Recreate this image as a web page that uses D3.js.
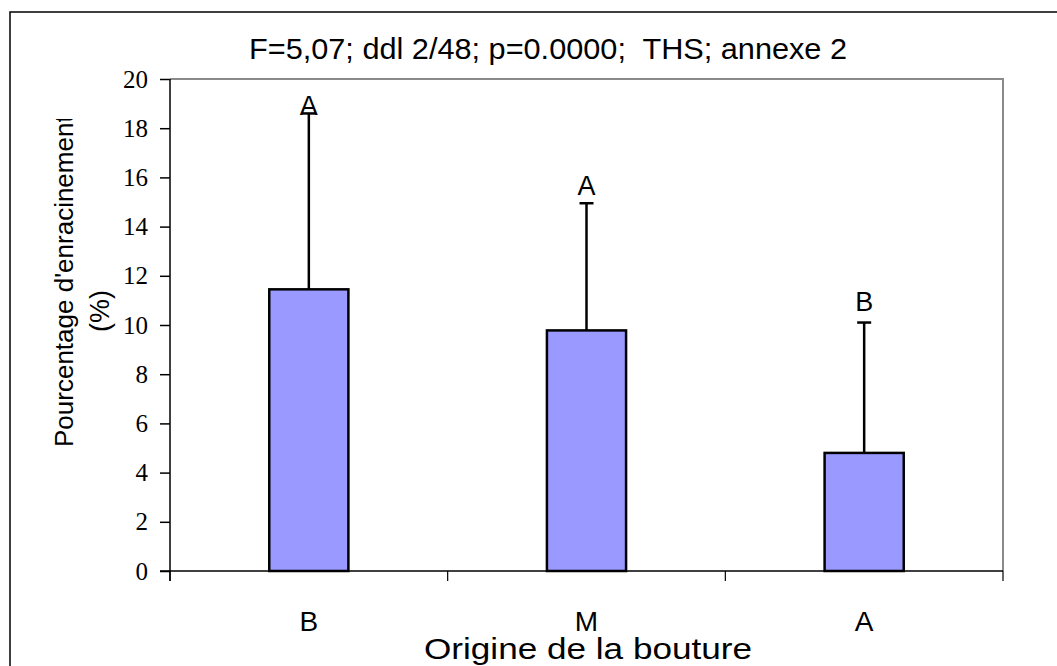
<!DOCTYPE html>
<html>
<head>
<meta charset="utf-8">
<script src="https://cdn.jsdelivr.net/npm/d3@7"></script>
<style>
  body { margin: 0; background: #fff; }
  text { white-space: pre; }
</style>
</head>
<body>
<script>
// data
const categories = ["B", "M", "A"];
const means = [11.45, 9.78, 4.8];
const errors = [7.15, 5.17, 5.3];
const letters = ["A", "A", "B"];
const letterAt = [18.55, 15.3, 10.55];
const yTicks = [0, 2, 4, 6, 8, 10, 12, 14, 16, 18, 20];

const width = 1057, height = 666;
const margin = { left: 170, top: 79, right: 54, bottom: 95 };
const sans = "Liberation Sans, Arial, sans-serif";

const svg = d3.select("body").append("svg")
  .attr("width", width)
  .attr("height", height);

// outer frame (runs off the page on right and bottom)
svg.append("rect")
  .attr("x", 10).attr("y", 12)
  .attr("width", width + 20).attr("height", height + 20)
  .attr("fill", "none").attr("stroke", "#000").attr("stroke-width", 1.5);

const x = d3.scaleBand()
  .domain(categories)
  .range([margin.left, width - margin.right])
  .paddingInner(0.715).paddingOuter(0.3575);

const xOuter = d3.scaleBand()
  .domain(categories)
  .range([margin.left, width - margin.right]);

const y = d3.scaleLinear()
  .domain([0, 20])
  .range([height - margin.bottom, margin.top]);

// plot area border (grey top / right)
svg.append("path")
  .attr("d", `M${margin.left},${margin.top}H${width - margin.right}V${height - margin.bottom}`)
  .attr("fill", "none").attr("stroke", "#8a8a8a").attr("stroke-width", 2);

// title
svg.append("text")
  .attr("x", 548).attr("y", 59)
  .attr("text-anchor", "middle")
  .attr("font-family", sans)
  .attr("font-size", 30)
  .attr("textLength", 598)
  .attr("lengthAdjust", "spacingAndGlyphs")
  .text("F=5,07; ddl 2/48; p=0.0000;  THS; annexe 2");

// y axis
const yAxis = svg.append("g")
  .attr("transform", `translate(${margin.left},0)`)
  .call(d3.axisLeft(y).tickValues(yTicks).tickSize(10).tickSizeOuter(0).tickPadding(12));
yAxis.select(".domain").attr("stroke", "#000").attr("stroke-width", 1.5)
  .attr("d", `M0,${margin.top}V${height - margin.bottom + 10}`);
yAxis.selectAll(".tick line").attr("stroke-width", 1.5);
yAxis.selectAll("text")
  .attr("font-family", "Liberation Serif, Times New Roman, serif")
  .attr("font-size", 25)
  .attr("fill", "#000");

// x axis
const xAxis = svg.append("g")
  .attr("transform", `translate(0,${height - margin.bottom})`);
xAxis.append("line")
  .attr("x1", margin.left - 10).attr("x2", width - margin.right)
  .attr("stroke", "#000").attr("stroke-width", 1.5);
const bounds = categories.map(c => xOuter(c)).concat([width - margin.right]);
xAxis.selectAll(".xtick")
  .data(bounds)
  .join("line")
  .attr("x1", d => d).attr("x2", d => d)
  .attr("y1", 0).attr("y2", 10)
  .attr("stroke", "#000").attr("stroke-width", 1.2);
xAxis.selectAll(".xlab")
  .data(categories)
  .join("text")
  .attr("x", d => x(d) + x.bandwidth() / 2)
  .attr("y", 60)
  .attr("text-anchor", "middle")
  .attr("font-family", sans)
  .attr("font-size", 28)
  .text(d => d);

svg.append("text")
  .attr("x", 588).attr("y", 659)
  .attr("text-anchor", "middle")
  .attr("font-family", sans)
  .attr("font-size", 30)
  .attr("textLength", 328)
  .attr("lengthAdjust", "spacingAndGlyphs")
  .text("Origine de la bouture");

// y title (first line clipped like the original)
svg.append("clipPath").attr("id", "ytclip")
  .append("rect").attr("x", 0).attr("y", 119).attr("width", 160).attr("height", 400);
const yt = svg.append("g").attr("clip-path", "url(#ytclip)");
yt.append("text")
  .attr("transform", "translate(73,447) rotate(-90)")
  .attr("font-family", sans)
  .attr("font-size", 26)
  .text("Pourcentage d'enracinement");
svg.append("text")
  .attr("transform", "translate(109,311) rotate(-90)")
  .attr("text-anchor", "middle")
  .attr("font-family", sans)
  .attr("font-size", 27)
  .text("(%)");

// error bars
const eb = svg.append("g").attr("stroke", "#000").attr("stroke-width", 2.5);
categories.forEach((c, i) => {
  const cx = x(c) + x.bandwidth() / 2;
  eb.append("line")
    .attr("x1", cx).attr("x2", cx)
    .attr("y1", y(means[i])).attr("y2", y(means[i] + errors[i]));
  eb.append("line")
    .attr("x1", cx - 7).attr("x2", cx + 7)
    .attr("y1", y(means[i] + errors[i])).attr("y2", y(means[i] + errors[i]));
});

// bars
svg.append("g")
  .selectAll("rect")
  .data(categories)
  .join("rect")
  .attr("x", d => x(d))
  .attr("y", (d, i) => y(means[i]))
  .attr("width", x.bandwidth())
  .attr("height", (d, i) => y(0) - y(means[i]))
  .attr("fill", "#9999ff")
  .attr("stroke", "#000")
  .attr("stroke-width", 2.5);

// significance letters
svg.append("g")
  .selectAll("text")
  .data(categories)
  .join("text")
  .attr("x", d => x(d) + x.bandwidth() / 2)
  .attr("y", (d, i) => y(letterAt[i]))
  .attr("text-anchor", "middle")
  .attr("font-family", sans)
  .attr("font-size", 27)
  .text((d, i) => letters[i]);
</script>
</body>
</html>
